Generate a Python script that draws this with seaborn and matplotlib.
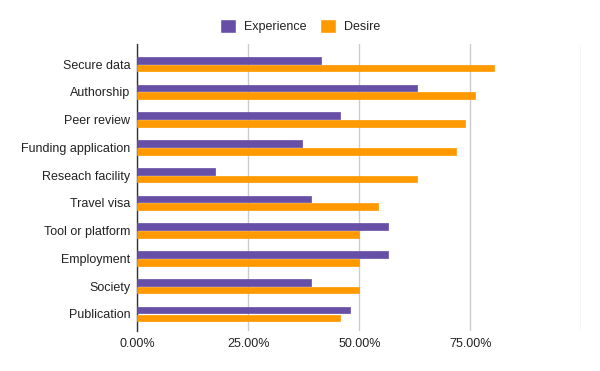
import pandas as pd
import matplotlib
matplotlib.use("Agg")
import matplotlib.pyplot as plt
from matplotlib.patches import Patch
import seaborn as sns

categories = ["Secure data", "Authorship", "Peer review", "Funding application",
              "Reseach facility", "Travel visa", "Tool or platform", "Employment",
              "Society", "Publication"]
experience = [0.413, 0.630, 0.457, 0.370, 0.174, 0.391, 0.565, 0.565, 0.391, 0.478]
desire = [0.804, 0.761, 0.739, 0.717, 0.630, 0.543, 0.500, 0.500, 0.500, 0.457]
series = ["Experience", "Desire"]
colors = ["#674ea7", "#ff9900"]
x_ticks = [0, 0.25, 0.5, 0.75, 1.0]
x_tick_labels = ["0.00%", "25.00%", "50.00%", "75.00%", ""]

df = pd.DataFrame({
    "category": categories * 2,
    "value": experience + desire,
    "series": [series[0]] * len(categories) + [series[1]] * len(categories),
})

sns.set_style("white")
plt.rcParams["font.family"] = ["Liberation Sans", "DejaVu Sans"]

fig = plt.figure(figsize=(6, 3.71), dpi=100)
ax = fig.add_axes([0.2288, 0.108, 0.74, 0.773])

sns.barplot(data=df, y="category", x="value", hue="series", order=categories,
            hue_order=series, palette=colors, saturation=1, orient="h",
            width=0.56, gap=0.14, legend=False, ax=ax, zorder=3)

# soften bar corners a bit
for p in ax.patches:
    p.set_edgecolor(p.get_facecolor())
    p.set_linewidth(0.5)
    p.set_joinstyle("round")

ax.set_xlim(0, 1.0)
ax.set_ylim(len(categories) - 0.5 + 0.11, -0.72)
ax.set_xticks(x_ticks)
ax.set_xticklabels(x_tick_labels)
ax.xaxis.grid(True, color="#cccccc", linewidth=1, zorder=0)
ax.set_axisbelow(True)
ax.set_xlabel("")
ax.set_ylabel("")
for side in ["top", "right", "bottom"]:
    ax.spines[side].set_visible(False)
ax.spines["left"].set_color("#333333")
ax.spines["left"].set_linewidth(1.0)
ax.tick_params(axis="both", length=0, labelsize=9, colors="#222222", pad=5)

handles = [Patch(facecolor=c, label=s) for s, c in zip(series, colors)]
fig.legend(handles=handles, loc="center", bbox_to_anchor=(0.5, 0.93), ncol=2,
           frameon=False, fontsize=9, handlelength=1.3, handleheight=1.3,
           handletextpad=0.6, columnspacing=1.1, labelcolor="#222222")

fig.savefig("out.png", dpi=100, facecolor="white")
